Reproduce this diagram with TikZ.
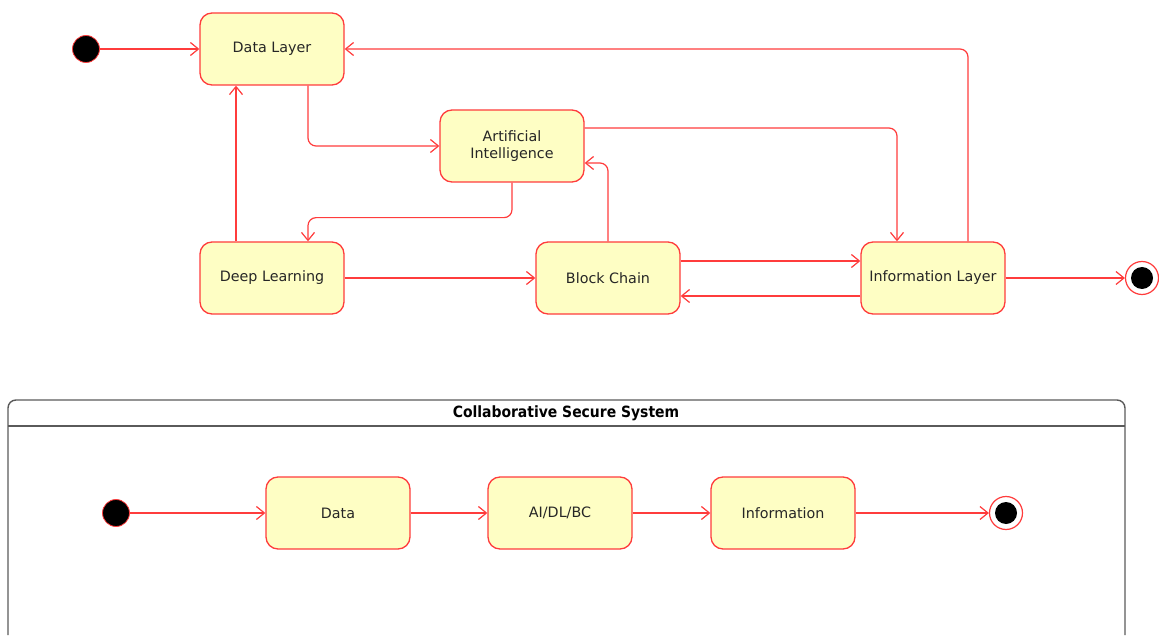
\documentclass[tikz,border=0pt]{standalone}
\usepackage{fontspec}
\setmainfont{DejaVu Sans}
\newfontfamily\titlefont{DejaVu Sans Condensed}
\usetikzlibrary{arrows.meta}
\definecolor{umlred}{RGB}{255,60,60}
\definecolor{umlyellow}{RGB}{254,254,196}
\definecolor{framegray}{RGB}{90,90,90}
\tikzset{
  stbox/.style={draw=umlred, line width=1.3pt, fill=umlyellow, rounded corners=12pt,
    minimum width=144pt, minimum height=72pt, align=center, inner sep=2pt,
    font=\fontsize{14.3}{16.5}\selectfont, text=black!85},
  startdot/.style={circle, fill=black, draw=umlred, line width=0.8pt, minimum size=27pt, inner sep=0pt},
  endring/.style={circle, fill=white, draw=umlred, line width=1.2pt, minimum size=33pt, inner sep=0pt},
  enddot/.style={circle, fill=black, minimum size=22pt, inner sep=0pt},
  arr/.style={draw=umlred, line width=1.2pt, rounded corners=8pt,
    -{Straight Barb[length=8pt,width=13pt,line width=1.2pt]}},
  framebox/.style={draw=framegray, line width=1.4pt, rounded corners=8pt},
}
\begin{document}
\begin{tikzpicture}[x=1pt,y=-1pt]
\useasboundingbox (0,0) rectangle (1159,636);
% top diagram
\node[startdot] (s1) at (86,49) {};
\node[stbox] (dl) at (272,49) {\raisebox{-2pt}{Data Layer}};
\node[stbox] (ai) at (512,146) {Artificial\\Intelligence};
\node[stbox] (deep) at (272,278) {\raisebox{-2pt}{Deep Learning}};
\node[stbox] (bc) at (608,278) {\raisebox{-2pt}{Block Chain}};
\node[stbox] (info) at (933,278) {\raisebox{-2pt}{Information Layer}};
\node[endring] (e1) at (1142,278) {};
\node[enddot] (e1i) at (e1) {};

\draw[arr] (s1) -- (dl.west);
\draw[arr] ([xshift=35pt]info.north) |- (dl.east);
\draw[arr] ([xshift=36pt]dl.south) |- (ai.west);
\draw[arr] ([yshift=18pt]ai.east) -| ([xshift=-36pt]info.north);
\draw[arr] (ai.south) -- ++(0,35) -| ([xshift=36pt]deep.north);
\draw[arr] ([xshift=-36pt]deep.north) -- ([xshift=-36pt]dl.south);
\draw[arr] (deep.east) -- (bc.west);
\draw[arr] (bc.north) |- ([yshift=-17pt]ai.east);
\draw[arr] ([yshift=17pt]bc.east) -- ([yshift=17pt]info.west);
\draw[arr] ([yshift=-18pt]info.west) -- ([yshift=-18pt]bc.east);
\draw[arr] (info.east) -- (e1);

% bottom frame
\draw[framebox] (8,635) -- (8,400) -- (1125,400) -- (1125,635);
\node[font=\titlefont\bfseries\fontsize{15.5}{17}\selectfont] (title) at (566,413) {Collaborative Secure System};
\draw[framegray, line width=1.4pt] (8,426) -- (1125,426);

\node[startdot] (s2) at (116,513) {};
\node[stbox] (data) at (338,513) {\raisebox{-2pt}{Data}};
\node[stbox] (adb) at (560,513) {\raisebox{-2pt}{AI/DL/BC}};
\node[stbox] (inf2) at (783,513) {\raisebox{-2pt}{Information}};
\node[endring] (e2) at (1006,513) {};
\node[enddot] (e2i) at (e2) {};

\draw[arr] (s2) -- (data.west);
\draw[arr] (data) -- (adb);
\draw[arr] (adb) -- (inf2);
\draw[arr] (inf2.east) -- (e2);
\end{tikzpicture}
\end{document}
